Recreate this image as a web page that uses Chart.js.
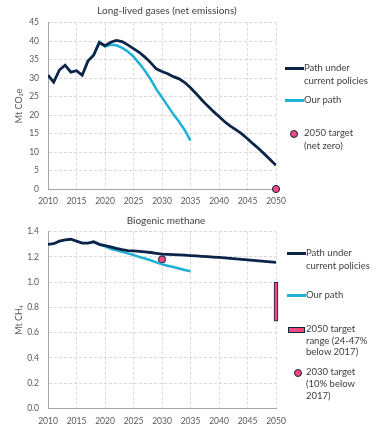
<!DOCTYPE html>
<html><head><meta charset="utf-8">
<script src="https://cdn.jsdelivr.net/npm/chart.js@4/dist/chart.umd.min.js"></script>
<style>
html,body{margin:0;padding:0;background:#fff;width:377px;height:430px;overflow:hidden;}
.c{position:absolute;left:0;}
.lg{position:absolute;font-family:Lato,sans-serif;font-size:9.5px;color:#404040;line-height:12.5px;white-space:nowrap;}
.tt{position:absolute;font-family:Lato,sans-serif;font-size:10px;color:#404040;line-height:12px;white-space:nowrap;transform:translateX(-50%);}
.sw{position:absolute;}
</style></head><body>
<div class="c" style="top:0"><canvas id="c1" width="377" height="212"></canvas></div>
<div class="c" style="top:212px"><canvas id="c2" width="377" height="218"></canvas></div>

<div class="tt" style="left:167px;top:3.5px">Long-lived gases (net emissions)</div>
<div class="tt" style="left:166px;top:214px">Biogenic methane</div>

<div class="sw" style="left:285px;top:67px;width:19px;height:3px;background:#0b2447"></div>
<div class="lg" style="left:304px;top:62px">Path under<br>current policies</div>
<div class="sw" style="left:285px;top:99px;width:19px;height:3px;background:#1fb0d6"></div>
<div class="lg" style="left:304px;top:94px">Our path</div>
<div class="sw" style="left:289.5px;top:129.5px;width:6px;height:6px;border-radius:50%;background:#ef4a7d;border:1px solid #0b2447"></div>
<div class="lg" style="left:304px;top:127px">2050 target<br>(net zero)</div>

<div class="sw" style="left:287px;top:252px;width:19px;height:3px;background:#0b2447"></div>
<div class="lg" style="left:306px;top:247px">Path under<br>current policies</div>
<div class="sw" style="left:287px;top:294px;width:19px;height:3px;background:#1fb0d6"></div>
<div class="lg" style="left:306px;top:289px">Our path</div>
<div class="sw" style="left:288px;top:327px;width:15px;height:4px;background:#ef4a7d;border:1px solid #0b2447"></div>
<div class="lg" style="left:306px;top:323px;line-height:11.7px">2050 target<br>range (24-47%<br>below 2017)</div>
<div class="sw" style="left:294px;top:368.5px;width:6px;height:6px;border-radius:50%;background:#ef4a7d;border:1px solid #0b2447"></div>
<div class="lg" style="left:306px;top:366px;line-height:12px">2030 target<br>(10% below<br>2017)</div>

<script>
// ---- data ----
const years = [];
for (let y = 2010; y <= 2050; y++) years.push(y);
const ourYears = [];
for (let y = 2018; y <= 2035; y++) ourYears.push(y);

const llgCurrent = [30.8,28.9,32.2,33.5,31.6,32.0,30.8,34.6,36.2,39.6,
  38.8,39.7,40.2,39.9,39.0,38.0,37.0,35.7,34.2,32.5,
  31.8,31.2,30.4,29.8,28.8,27.4,25.8,24.1,22.5,21.0,
  19.6,18.2,17.0,16.0,14.9,13.6,12.2,10.9,9.4,7.9,6.4];
const llgOur = [36.2,39.8,38.5,39.0,38.9,38.2,37.2,35.8,34.0,32.0,29.7,27.0,24.8,22.5,20.2,18.2,15.9,13.1];
const llgTarget = [{x:2050, y:0}];

const ch4Current = [1.30,1.305,1.325,1.335,1.34,1.325,1.31,1.31,1.32,1.30,
  1.29,1.28,1.268,1.258,1.25,1.248,1.244,1.24,1.235,1.229,
  1.223,1.221,1.219,1.217,1.214,1.211,1.208,1.205,1.202,1.199,
  1.196,1.192,1.188,1.184,1.180,1.176,1.172,1.168,1.164,1.160,1.156];
const ch4Our = [1.32,1.30,1.285,1.265,1.252,1.24,1.228,1.215,1.20,1.187,1.174,1.157,1.141,1.13,1.12,1.108,1.097,1.087];
const ch4Target2030 = [{x:2030, y:1.18}];
const ch4Range2050 = [{x:2050, y:[0.69, 1.0]}];

// ---- styling ----
const NAVY = '#0b2447', CYAN = '#1fb0d6', PINK = '#ef4a7d';
const FONT = 'Lato, sans-serif';
const TICK_COLOR = '#595959';
Chart.defaults.font.family = FONT;
Chart.defaults.animation = false;

function toXY(xs, ys){ return xs.map((x,i)=>({x:x, y:ys[i]})); }

function makeOptions(topPad, yTitle, yMax, yStep, xHeight, decimals){
  return {
    responsive:false, animation:false,
    layout:{padding:{left:0,right:101,top:topPad,bottom:0}},
    plugins:{ legend:{display:false}, tooltip:{enabled:false}, title:{display:false} },
    scales:{
      x:{type:'linear', min:2010, max:2050, offset:false,
        grid:{color:'#d9d9d9', drawTicks:false, offset:false, lineWidth:1},
        border:{display:true, color:'#a6a6a6', width:1, dash:[3,2]},
        ticks:{stepSize:5, color:TICK_COLOR, font:{size:8.5}, padding:7.5, maxRotation:0, autoSkip:false, callback:v=>String(v)},
        afterFit:s=>{s.height = xHeight;}
      },
      y:{type:'linear', min:0, max:yMax,
        grid:{color:'#d9d9d9', drawTicks:false, lineWidth:1},
        border:{display:true, color:'#a6a6a6', width:1, dash:[3,2]},
        ticks:{stepSize:yStep, color:TICK_COLOR, font:{size:8.5}, padding:9, callback:v=>Number(v).toFixed(decimals)},
        title:{display:true, text:yTitle, color:TICK_COLOR, font:{size:9}, padding:{top:14,bottom:0}},
        afterFit:s=>{s.width = 48;}
      }
    }
  };
}

new Chart(document.getElementById('c1'), {
  type:'line',
  data:{datasets:[
    {label:'Path under current policies', data:toXY(years, llgCurrent), borderColor:NAVY, borderWidth:2.8, pointRadius:0, tension:0},
    {label:'Our path', data:toXY(ourYears, llgOur), borderColor:CYAN, borderWidth:2.5, pointRadius:0, tension:0},
    {label:'2050 target (net zero)', data:llgTarget, showLine:false, pointRadius:3.6, pointBackgroundColor:PINK, pointBorderColor:NAVY, pointBorderWidth:1, clip:false}
  ]},
  options:makeOptions(22.7, 'Mt CO\u2082e', 45, 5, 23, 0)
});

new Chart(document.getElementById('c2'), {
  type:'line',
  data:{datasets:[
    {label:'Path under current policies', data:toXY(years, ch4Current), borderColor:NAVY, borderWidth:2.8, pointRadius:0, tension:0},
    {label:'Our path', data:toXY(ourYears, ch4Our), borderColor:CYAN, borderWidth:2.5, pointRadius:0, tension:0},
    {type:'bar', label:'2050 target range (24-47% below 2017)', data:ch4Range2050, backgroundColor:PINK, borderColor:NAVY, borderWidth:1, borderSkipped:false, barThickness:4, clip:false},
    {label:'2030 target (10% below 2017)', data:ch4Target2030, showLine:false, pointRadius:3.6, pointBackgroundColor:PINK, pointBorderColor:NAVY, pointBorderWidth:1, clip:false}
  ]},
  options:makeOptions(19.7, 'Mt CH\u2084', 1.4, 0.2, 21.7, 1)
});
</script>
</body></html>
